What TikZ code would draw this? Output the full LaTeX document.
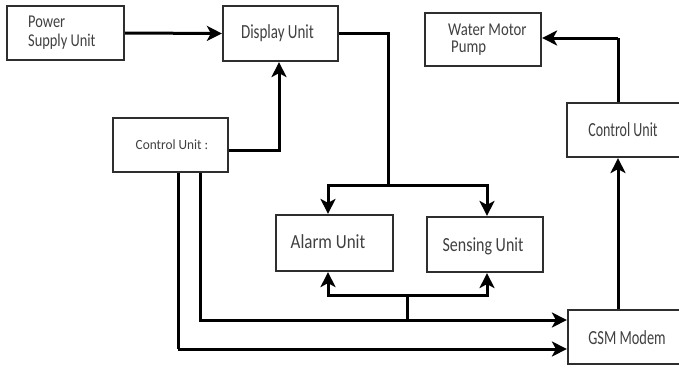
\documentclass[tikz,border=0pt]{standalone}
\usepackage{graphicx}
\usepackage{fontspec}
\setmainfont{Carlito}
\usetikzlibrary{arrows.meta}
\definecolor{txt}{HTML}{404040}
\definecolor{boxc}{HTML}{2E2E2E}
\newcommand{\lbl}[3]{{\fontsize{#1}{#1}\selectfont\scalebox{#2}[1]{#3}}}
\tikzset{
  box/.style={draw=boxc, line width=2.2pt, fill=white, inner sep=0pt},
  lab/.style={text=txt, inner sep=0pt},
  conn/.style={draw=black, line width=3pt},
  arr/.style={conn, -{Stealth[length=15pt,width=15pt,inset=4pt]}}
}
\begin{document}
\begin{tikzpicture}[x=1pt,y=-1pt]
\useasboundingbox (0,0) rectangle (679,367);
\clip (0,0) rectangle (679,367);
% boxes
\node[box, minimum width=117pt, minimum height=54pt] (psu) at (65.5,33) {};
\node[box, minimum width=115pt, minimum height=55pt] (disp) at (280.5,33.5) {};
\node[box, minimum width=115pt, minimum height=54pt] (ctla) at (170.5,145) {};
\node[box, minimum width=116pt, minimum height=53pt] (wmp) at (483,39.5) {};
\node[box, minimum width=117pt, minimum height=54pt] (ctlb) at (625.5,130) {};
\node[box, minimum width=117pt, minimum height=56pt] (alarm) at (334.5,243) {};
\node[box, minimum width=116pt, minimum height=55pt] (sens) at (485,244.5) {};
\node[box, minimum width=117pt, minimum height=54pt] (gsm) at (626.5,337) {};
% labels
\node[lab, anchor=base west] (psut1) at (28,27) {\lbl{18}{0.8}{Power}};
\node[lab, anchor=base west] (psut2) at (28,46) {\lbl{18}{0.8}{Supply Unit}};
\node[lab] (dispt) at (277.5,33) {\lbl{20}{0.75}{Display Unit}};
\node[lab] (ctlat) at (172,145) {\lbl{14}{0.95}{Control Unit :}};
\node[lab, anchor=base west] (wmpt1) at (448,35) {\lbl{18}{0.82}{Water Motor}};
\node[lab, anchor=base west] (wmpt2) at (451,52) {\lbl{18}{0.82}{Pump}};
\node[lab] (ctlbt) at (623,130) {\lbl{20}{0.7}{Control Unit}};
\node[lab] (alarmt) at (328,242) {\lbl{20}{0.85}{Alarm Unit}};
\node[lab] (senst) at (483,246) {\lbl{20}{0.8}{Sensing Unit}};
\node[lab] (gsmt) at (627,338) {\lbl{20}{0.72}{GSM Modem}};
% junction coordinates
\coordinate (dr) at (388,185);
\coordinate (tl) at (328,185);
\coordinate (tr) at (487,185);
\coordinate (bj) at (407,320);
\coordinate (bm) at (407,295);
\coordinate (bl) at (328,295);
\coordinate (br) at (487,295);
\coordinate (la) at (200,320);
\coordinate (lb) at (178,349);
\coordinate (wt) at (618,38);
% connectors
\draw[arr] (psu.east) -- (disp.west);
\draw[arr] ([yshift=-5pt]ctla.east) -| ([xshift=-1.5pt]disp.south);
\draw[conn] (disp.east) -| (dr);
\draw[conn, line cap=rect] (tl) -- (tr);
\draw[arr] (tl) -- (tl |- alarm.north);
\draw[arr] (tr) -- (tr |- sens.north);
\draw[conn] (la |- ctla.south) -- (la) -- (bj);
\draw[arr] (bj) -- (gsm.west |- bj);
\draw[conn] (bj) -- (bm);
\draw[conn, line cap=rect] (bl) -- (br);
\draw[arr] (bl) -- (bl |- alarm.south);
\draw[arr] (br) -- (br |- sens.south);
\draw[conn] (lb |- ctla.south) -- (lb);
\draw[arr] (lb) -- (gsm.west |- lb);
\draw[arr] (gsm.north -| wt) -- (ctlb.south -| wt);
\draw[conn] (ctlb.north -| wt) -- (wt);
\draw[arr] (wt) -- (wmp.east |- wt);
\end{tikzpicture}
\end{document}
